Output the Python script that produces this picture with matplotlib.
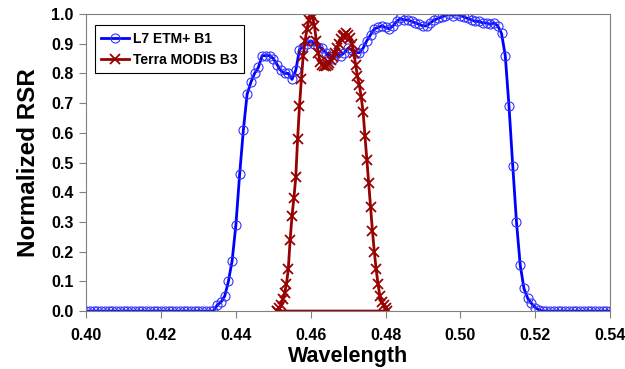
import numpy as np
import matplotlib
matplotlib.use('Agg')
import matplotlib.pyplot as plt
from matplotlib.ticker import FormatStrFormatter

plt.rcParams['font.family'] = ['Liberation Sans', 'DejaVu Sans']

# L7 ETM+ B1, 1 nm steps from 0.400 to 0.540
etm_wl = np.round(np.arange(400, 541) / 1000.0, 3)
etm_rsr = np.array(
    [0.0] * 35 +
    [0.02, 0.03, 0.05, 0.10, 0.17, 0.29, 0.46, 0.61, 0.73, 0.77,      # 0.435-0.444
     0.80, 0.82, 0.86, 0.86, 0.86, 0.85, 0.83, 0.81, 0.80, 0.80,      # 0.445-0.454
     0.78, 0.81, 0.88, 0.89, 0.90, 0.91, 0.90, 0.89, 0.885, 0.87,     # 0.455-0.464
     0.86, 0.85, 0.87, 0.86, 0.87, 0.885, 0.88, 0.87, 0.87, 0.885,    # 0.465-0.474
     0.91, 0.93, 0.95, 0.955, 0.96, 0.955, 0.95, 0.96, 0.975, 0.985,  # 0.475-0.484
     0.98, 0.98, 0.975, 0.97, 0.965, 0.96, 0.96, 0.97, 0.98, 0.985,   # 0.485-0.494
     0.99, 0.995, 1.0, 0.995, 1.0, 0.995, 0.99, 0.985, 0.98, 0.975,   # 0.495-0.504
     0.975, 0.97, 0.97, 0.965, 0.97, 0.96, 0.935, 0.86, 0.69, 0.49,   # 0.505-0.514
     0.30, 0.155, 0.076, 0.043, 0.026, 0.012, 0.004] +                # 0.515-0.521
    [0.0] * 19
)

# Terra MODIS B3 (last point closes back to the first one)
modis_wl = [0.4510, 0.4515, 0.4520, 0.4525, 0.4530, 0.4535, 0.4540, 0.4545,
            0.4550, 0.4555, 0.4560, 0.4565, 0.4570, 0.4575, 0.4580, 0.4585,
            0.4590, 0.4595, 0.4600, 0.4605, 0.4610, 0.4615, 0.4620, 0.4625,
            0.4630, 0.4635, 0.4640, 0.4645, 0.4650, 0.4655, 0.4660, 0.4665,
            0.4670, 0.4675, 0.4680, 0.4685, 0.4690, 0.4695, 0.4700, 0.4705,
            0.4710, 0.4715, 0.4720, 0.4725, 0.4730, 0.4735, 0.4740, 0.4745,
            0.4750, 0.4755, 0.4760, 0.4765, 0.4770, 0.4775, 0.4780, 0.4785,
            0.4790, 0.4795, 0.4800, 0.4805, 0.4510]
modis_rsr = [0.00, 0.01, 0.02, 0.04, 0.06, 0.09, 0.14, 0.24,
             0.32, 0.38, 0.45, 0.58, 0.69, 0.78, 0.86, 0.91,
             0.95, 0.98, 1.00, 0.99, 0.96, 0.91, 0.87, 0.84,
             0.83, 0.825, 0.825, 0.83, 0.835, 0.845, 0.855, 0.87,
             0.885, 0.90, 0.915, 0.925, 0.93, 0.935, 0.93, 0.92,
             0.90, 0.87, 0.83, 0.79, 0.76, 0.72, 0.67, 0.59,
             0.51, 0.43, 0.35, 0.27, 0.20, 0.14, 0.09, 0.05,
             0.03, 0.02, 0.012, 0.00, 0.00]

fig = plt.figure(figsize=(6.25, 3.69), dpi=100)
ax = fig.add_axes([0.138, 0.157, 0.838, 0.805])

ax.plot(etm_wl, etm_rsr, color='#0000ff', lw=2, marker='o', ms=6.5,
        mfc='none', mec='#3333ff', mew=0.8, label='L7 ETM+ B1')
ax.plot(modis_wl, modis_rsr, color='#990000', lw=2, marker='x', ms=7,
        mec='#990000', mew=1.3, label='Terra MODIS B3')

ax.set_xlim(0.40, 0.54)
ax.set_ylim(0.0, 1.0)
ax.set_xticks(np.arange(0.40, 0.541, 0.02))
ax.set_yticks(np.arange(0.0, 1.01, 0.1))
ax.xaxis.set_major_formatter(FormatStrFormatter('%.2f'))
ax.yaxis.set_major_formatter(FormatStrFormatter('%.1f'))
ax.tick_params(direction='out', length=5, color='#808080', labelsize=11.5)
ax.tick_params(axis='x', pad=7)
ax.tick_params(axis='y', pad=4)
for lab in ax.get_xticklabels() + ax.get_yticklabels():
    lab.set_fontweight('bold')
for sp in ax.spines.values():
    sp.set_color('#808080')

ax.set_xlabel('Wavelength', fontsize=15.5, fontweight='bold', labelpad=2)
ax.set_ylabel('Normalized RSR', fontsize=17.5, fontweight='bold', labelpad=8)

leg = ax.legend(loc='upper left', bbox_to_anchor=(0.016, 0.962), fancybox=False,
                edgecolor='black', framealpha=1, prop={'weight': 'bold', 'size': 10},
                handlelength=2.0, handletextpad=0.3, borderpad=0.45, labelspacing=0.55,
                borderaxespad=0)
leg.get_frame().set_linewidth(0.8)

fig.savefig('out.png', dpi=100)
